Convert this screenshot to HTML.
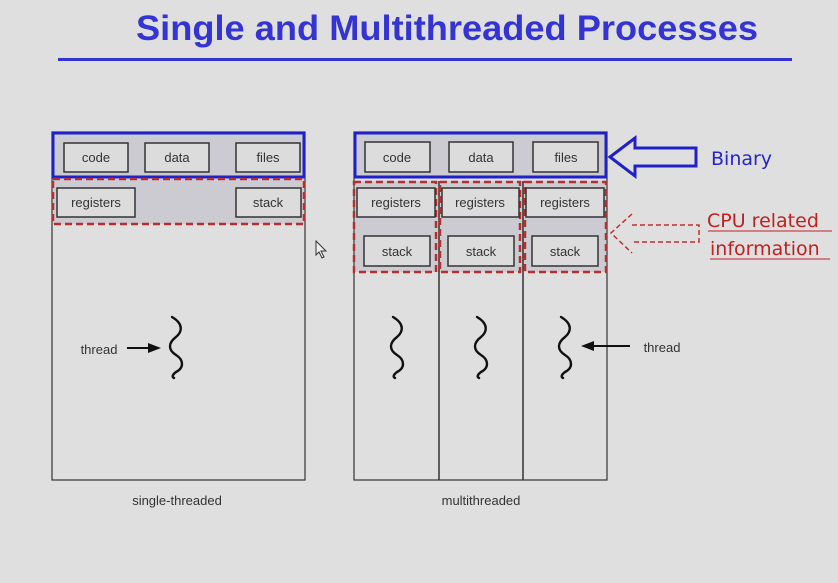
<!DOCTYPE html>
<html><head><meta charset="utf-8"><style>
html,body{margin:0;padding:0;background:#dfdfdf;}
svg{display:block;}
.t{font-family:"Liberation Sans",sans-serif;font-size:13px;fill:#333;text-anchor:middle;}
.h{font-family:"Liberation Sans",sans-serif;}
.c{font-family:"DejaVu Sans","Liberation Sans",sans-serif;font-size:19px;}
</style></head><body>
<svg width="838" height="583" viewBox="0 0 838 583" xmlns="http://www.w3.org/2000/svg">
<rect width="838" height="583" fill="#dfdfdf"/>
<text x="447" y="40" class="h" font-size="35" font-weight="bold" fill="#3434d4" text-anchor="middle" textLength="622" lengthAdjust="spacingAndGlyphs">Single and Multithreaded Processes</text>
<rect x="58" y="58" width="734" height="3" fill="#3434d4"/>

<!-- left process -->
<rect x="52" y="132" width="253" height="348" fill="#dfdfdf" stroke="#333" stroke-width="1.2"/>
<rect x="53" y="133" width="251" height="44" fill="#cdcbd2" stroke="#2020c8" stroke-width="3"/>
<rect x="53" y="179" width="251" height="45" fill="#cdcbd2" stroke="#b23030" stroke-width="2.5" stroke-dasharray="7,4"/>
<g fill="#dcdcdc" stroke="#333" stroke-width="1.5">
<rect x="64" y="143" width="64" height="29"/><rect x="145" y="143" width="64" height="29"/><rect x="236" y="143" width="64" height="29"/>
<rect x="57" y="188" width="78" height="29"/><rect x="236" y="188" width="65" height="29"/>
</g>
<text class="t" x="96" y="162">code</text><text class="t" x="177" y="162">data</text><text class="t" x="268" y="162">files</text>
<text class="t" x="96" y="207">registers</text><text class="t" x="268" y="207">stack</text>

<!-- right process -->
<rect x="354" y="132" width="253" height="348" fill="#dfdfdf" stroke="#333" stroke-width="1.2"/>
<rect x="355" y="181" width="251" height="91" fill="#cdcbd2"/>
<line x1="439" y1="181" x2="439" y2="480" stroke="#333" stroke-width="1.5"/>
<line x1="523" y1="181" x2="523" y2="480" stroke="#333" stroke-width="1.5"/>
<rect x="355" y="133" width="251" height="44" fill="#cdcbd2" stroke="#2020c8" stroke-width="3"/>
<g fill="none" stroke="#b23030" stroke-width="2.5" stroke-dasharray="7,4">
<rect x="354" y="182" width="82" height="90"/><rect x="440" y="182" width="80" height="90"/><rect x="525" y="182" width="81" height="90"/>
</g>
<g fill="#dcdcdc" stroke="#333" stroke-width="1.5">
<rect x="365" y="142" width="65" height="30"/><rect x="449" y="142" width="64" height="30"/><rect x="533" y="142" width="65" height="30"/>
<rect x="357" y="188" width="78" height="29"/><rect x="442" y="188" width="77" height="29"/><rect x="526" y="188" width="78" height="29"/>
<rect x="364" y="236" width="66" height="30"/><rect x="448" y="236" width="66" height="30"/><rect x="532" y="236" width="66" height="30"/>
</g>
<text class="t" x="397" y="162">code</text><text class="t" x="481" y="162">data</text><text class="t" x="566" y="162">files</text>
<text class="t" x="396" y="207">registers</text><text class="t" x="480" y="207">registers</text><text class="t" x="565" y="207">registers</text>
<text class="t" x="397" y="256">stack</text><text class="t" x="481" y="256">stack</text><text class="t" x="565" y="256">stack</text>

<!-- threads -->
<g fill="none" stroke="#111" stroke-width="2.4" stroke-linecap="round">
<path id="w" d="M172,317 C184,324 182,332 176,337 C168,343 168,350 176,355 C184,360 184,368 176,372 C172,375 172,377 174,378"/>
<use href="#w" x="221" y="0"/>
<use href="#w" x="305" y="0"/>
<use href="#w" x="389" y="0"/>
</g>
<text class="t" x="99" y="354">thread</text>
<line x1="127" y1="348" x2="150" y2="348" stroke="#111" stroke-width="2"/>
<polygon points="148,343 161,348 148,353" fill="#111"/>
<text class="t" x="662" y="352">thread</text>
<line x1="630" y1="346" x2="592" y2="346" stroke="#111" stroke-width="2"/>
<polygon points="594,341 581,346 594,351" fill="#111"/>

<text class="t" x="177" y="505">single-threaded</text>
<text class="t" x="481" y="505">multithreaded</text>

<!-- Binary arrow -->
<polygon points="610,157 635,138 635,148 696,148 696,166 635,166 635,176" fill="#dfdfdf" stroke="#2020c8" stroke-width="3"/>
<text class="c" x="711" y="165" fill="#2525c8">Binary</text>
<!-- CPU arrow -->
<polyline points="632,214 611,233 632,253" fill="none" stroke="#c03030" stroke-width="1.5" stroke-dasharray="5,3"/>
<polyline points="632,225 699,225 699,242 632,242" fill="none" stroke="#c03030" stroke-width="1.5" stroke-dasharray="5,3"/>
<text class="c" x="707" y="227" fill="#c02020">CPU related</text>
<line x1="708" y1="231" x2="832" y2="231" stroke="#c02020" stroke-width="1"/>
<text class="c" x="710" y="255" fill="#c02020">information</text>
<line x1="710" y1="259" x2="830" y2="259" stroke="#c02020" stroke-width="1"/>
<polygon points="316,241 316,255 319,252 322,258 324,257 321,251 326,251" fill="#eee" stroke="#333" stroke-width="1"/>
</svg>
</body></html>
